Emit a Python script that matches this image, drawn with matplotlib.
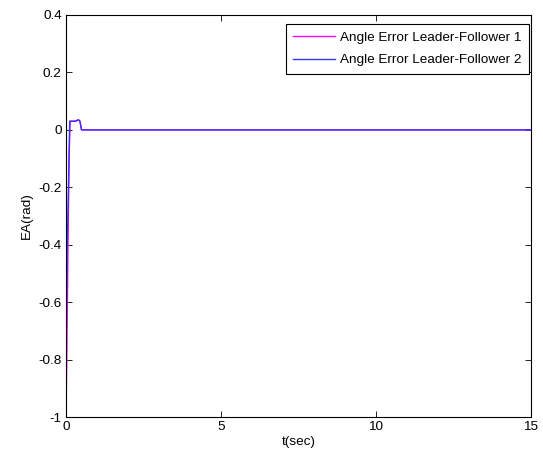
import matplotlib.pyplot as plt

# Data
t1 = [0, 0.03, 0.07, 0.1, 0.13, 0.2, 0.3, 0.4, 0.45, 0.5, 15]
ea1 = [-1, -0.75, -0.35, -0.1, 0.03, 0.03, 0.03, 0.035, 0.03, 0.0, 0.0]
t2 = [0, 0.01, 0.04, 0.08, 0.12, 0.2, 0.3, 0.4, 0.45, 0.5, 15]
ea2 = [-1, -0.7, -0.4, -0.2, 0.03, 0.03, 0.03, 0.035, 0.03, 0.0, 0.0]

xticks = [0, 5, 10, 15]
yticks = [-1, -0.8, -0.6, -0.4, -0.2, 0, 0.2, 0.4]
ytick_labels = ['-1', '-0.8', '-0.6', '-0.4', '-0.2', '0', '0.2', '0.4']

plt.rcParams['font.family'] = ['Liberation Sans', 'DejaVu Sans']
plt.rcParams['font.size'] = 9.7

fig = plt.figure(figsize=(5.43, 4.59), dpi=100)
ax = fig.add_axes([66 / 543, 1 - 417 / 459, (531 - 66) / 543, (417 - 15) / 459])

ax.plot(t1, ea1, color='#ff00ff', linewidth=1, label='Angle Error Leader-Follower 1')
ax.plot(t2, ea2, color='#3333ff', linewidth=1, label='Angle Error Leader-Follower 2')

ax.set_xlim(0, 15)
ax.set_ylim(-1, 0.4)
ax.set_xticks(xticks)
ax.set_yticks(yticks)
ax.set_yticklabels(ytick_labels)
ax.tick_params(direction='in', top=True, right=True, length=4, width=0.6, pad=3)
for s in ax.spines.values():
    s.set_linewidth(0.8)

ax.set_xlabel('t(sec)', labelpad=2)
ax.set_ylabel('EA(rad)', labelpad=4)

leg = ax.legend(loc='upper right', bbox_to_anchor=(0.9957, 0.9776), borderaxespad=0,
                fancybox=False, edgecolor='black', framealpha=1,
                handlelength=3.1, handletextpad=0.4, borderpad=0.55,
                labelspacing=0.75, fontsize=9.7)
leg.get_frame().set_linewidth(0.8)

fig.savefig('out.png', dpi=100)
